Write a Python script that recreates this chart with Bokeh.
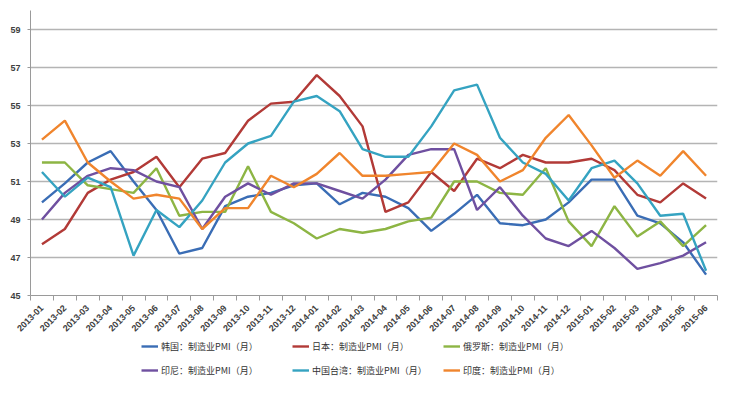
import math
from bokeh.plotting import figure
from bokeh.layouts import column
from bokeh.models import Range1d, FixedTicker, Legend, LegendItem
from bokeh.embed import file_html
from bokeh.resources import INLINE

months = ["2013-01", "2013-02", "2013-03", "2013-04", "2013-05", "2013-06", "2013-07", "2013-08",
          "2013-09", "2013-10", "2013-11", "2013-12", "2014-01", "2014-02", "2014-03", "2014-04",
          "2014-05", "2014-06", "2014-07", "2014-08", "2014-09", "2014-10", "2014-11", "2014-12",
          "2015-01", "2015-02", "2015-03", "2015-04", "2015-05", "2015-06"]

korea = [49.9, 50.9, 52.0, 52.6, 51.0, 49.5, 47.2, 47.5, 49.7, 50.2, 50.4, 50.8, 50.9, 49.8, 50.4,
         50.2, 49.6, 48.4, 49.3, 50.3, 48.8, 48.7, 49.0, 49.9, 51.1, 51.1, 49.2, 48.8, 47.8, 46.1]
japan = [47.7, 48.5, 50.4, 51.1, 51.5, 52.3, 50.7, 52.2, 52.5, 54.2, 55.1, 55.2, 56.6, 55.5, 53.9,
         49.4, 49.9, 51.5, 50.5, 52.2, 51.7, 52.4, 52.0, 52.0, 52.2, 51.6, 50.3, 49.9, 50.9, 50.1]
russia = [52.0, 52.0, 50.8, 50.6, 50.4, 51.7, 49.2, 49.4, 49.4, 51.8, 49.4, 48.8, 48.0, 48.5, 48.3,
          48.5, 48.9, 49.1, 51.0, 51.0, 50.4, 50.3, 51.7, 48.9, 47.6, 49.7, 48.1, 48.9, 47.6, 48.7]
indonesia = [49.0, 50.4, 51.3, 51.7, 51.6, 51.0, 50.7, 48.5, 50.2, 50.9, 50.3, 50.9, 50.9, 50.5, 50.1,
             51.1, 52.4, 52.7, 52.7, 49.5, 50.7, 49.2, 48.0, 47.6, 48.4, 47.5, 46.4, 46.7, 47.1, 47.8]
taiwan = [51.5, 50.2, 51.2, 50.7, 47.1, 49.5, 48.6, 50.0, 52.0, 53.0, 53.4, 55.2, 55.5, 54.7, 52.7,
          52.3, 52.3, 53.9, 55.8, 56.1, 53.3, 52.0, 51.4, 50.0, 51.7, 52.1, 50.9, 49.2, 49.3, 46.3]
india = [53.2, 54.2, 52.0, 51.0, 50.1, 50.3, 50.1, 48.5, 49.6, 49.6, 51.3, 50.7, 51.4, 52.5, 51.3,
         51.3, 51.4, 51.5, 53.0, 52.4, 51.0, 51.6, 53.3, 54.5, 52.9, 51.2, 52.1, 51.3, 52.6, 51.3]

series_names = ["韩国：制造业PMI（月）", "日本：制造业PMI（月）", "俄罗斯：制造业PMI（月）",
                "印尼：制造业PMI（月）", "中国台湾：制造业PMI（月）", "印度：制造业PMI（月）"]
series_values = [korea, japan, russia, indonesia, taiwan, india]
series_colors = ["#3a6db5", "#b23a37", "#8db544", "#6f50a0", "#35a3c1", "#f0852d"]

y_ticks = [45, 47, 49, 51, 53, 55, 57, 59]

x = list(range(len(months)))

# ---- main chart ----
p = figure(width=718, height=337, x_range=Range1d(-0.5, len(months) - 0.5),
           y_range=Range1d(45, 60), output_backend="svg", toolbar_location=None,
           min_border_left=30, min_border_right=1, min_border_top=10, min_border_bottom=41)
p.outline_line_color = None
p.background_fill_color = "white"
p.border_fill_color = "white"

for vals, col in zip(series_values, series_colors):
    p.line(x, vals, line_color=col, line_width=2.4)

p.xaxis.ticker = FixedTicker(ticks=x, minor_ticks=[i - 0.5 for i in range(len(months) + 1)])
p.xaxis.major_label_overrides = {i: m for i, m in enumerate(months)}
p.xaxis.major_label_orientation = math.pi / 4
p.xaxis.major_tick_out = 0
p.xaxis.major_tick_in = 0
p.xaxis.minor_tick_out = 5
p.xaxis.minor_tick_in = 0
p.xaxis.minor_tick_line_color = "#9a9a9a"
p.xaxis.axis_line_color = "#9a9a9a"
p.xaxis.major_label_standoff = 6
p.xaxis.major_label_text_font = "Liberation Sans"
p.xaxis.major_label_text_font_size = "9px"
p.xaxis.major_label_text_font_style = "bold"
p.xaxis.major_label_text_color = "#404040"

p.yaxis.ticker = FixedTicker(ticks=y_ticks)
p.yaxis.major_tick_out = 3
p.yaxis.major_tick_in = 0
p.yaxis.minor_tick_line_color = None
p.yaxis.major_tick_line_color = "#9a9a9a"
p.yaxis.axis_line_color = "#9a9a9a"
p.yaxis.major_label_standoff = 7
p.yaxis.major_label_text_font = "Liberation Sans"
p.yaxis.major_label_text_font_size = "9px"
p.yaxis.major_label_text_font_style = "bold"
p.yaxis.major_label_text_color = "#404040"

p.xgrid.visible = False
p.ygrid.ticker = FixedTicker(ticks=y_ticks[1:])
p.ygrid.grid_line_color = "#b4b4b4"
p.ygrid.grid_line_width = 1.3

# ---- legend strip (same series, drawn outside its visible range) ----
pl = figure(width=718, height=40, x_range=Range1d(-0.5, len(months) - 0.5),
            y_range=Range1d(0, 1), output_backend="svg", toolbar_location=None,
            x_axis_location=None, y_axis_location=None,
            min_border_left=0, min_border_right=0, min_border_top=0, min_border_bottom=0)
pl.outline_line_color = None
pl.grid.visible = False
pl.background_fill_color = "white"
pl.border_fill_color = "white"

items = []
for name, vals, col in zip(series_names, series_values, series_colors):
    r = pl.line(x, vals, line_color=col, line_width=2.4)
    items.append(LegendItem(label=name, renderers=[r]))

legend = Legend(items=items, location=(111, 0), orientation="horizontal", ncols=3,
                glyph_width=17, glyph_height=14, label_height=14, label_width=121,
                label_standoff=3, spacing=10, padding=0, margin=0,
                border_line_color=None, background_fill_alpha=0,
                label_text_font="Noto Sans CJK SC", label_text_font_size="9px",
                label_text_color="#333333")
pl.add_layout(legend, "center")

layout = column(p, pl, spacing=0)
open("out.html", "w").write(file_html(layout, INLINE))
